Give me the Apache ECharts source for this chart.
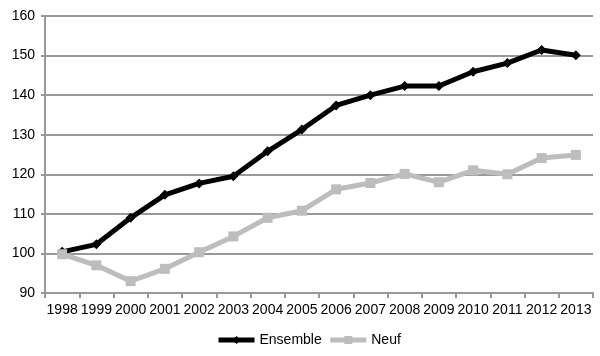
<!DOCTYPE html>
<html><head><meta charset="utf-8">
<script src="https://cdn.jsdelivr.net/npm/echarts@6/dist/echarts.min.js"></script>
<style>html,body{margin:0;padding:0;background:#fff}#c{width:600px;height:356px}</style>
</head><body><div id="c"></div>
<script>
const years = ['1998','1999','2000','2001','2002','2003','2004','2005','2006','2007','2008','2009','2010','2011','2012','2013'];
const ensemble = [100.4,102.3,109.0,114.8,117.7,119.5,125.8,131.3,137.4,140.0,142.3,142.3,145.9,148.1,151.4,150.1];
const neuf = [99.8,97.0,93.0,96.1,100.3,104.3,109.0,110.8,116.2,117.8,120.1,118.0,121.0,120.0,124.1,124.9];
const yTicks = {min:90, max:160, interval:10};

const chart = echarts.init(document.getElementById('c'));
const font = 'Liberation Sans, Arial, sans-serif';
chart.setOption({
  animation:false,
  grid:{left:45, right:7, top:16, bottom:63},
  xAxis:{type:'category', data:years, boundaryGap:true,
    axisLine:{lineStyle:{color:'#999', width:2}},
    axisTick:{show:true, length:5, lineStyle:{color:'#999', width:2}},
    axisLabel:{color:'#000', fontSize:14, fontFamily:font, margin:10, interval:0}},
  yAxis:{type:'value', min:yTicks.min, max:yTicks.max, interval:yTicks.interval,
    axisLine:{show:true, lineStyle:{color:'#999', width:2}},
    axisTick:{show:true, length:4, lineStyle:{color:'#999', width:2}},
    splitLine:{lineStyle:{color:'#999', width:2}},
    axisLabel:{color:'#000', fontSize:14, fontFamily:font, margin:10}},
  legend:{bottom:4, left:211, itemWidth:36, itemHeight:10, itemGap:6,
    textStyle:{color:'#000', fontSize:14, fontFamily:font},
    data:[{name:'Ensemble', lineStyle:{width:5, color:'#000'}},{name:'Neuf', lineStyle:{width:5, color:'#bdbdbd'}}]},
  series:[
    {name:'Ensemble', type:'line', data:ensemble, symbol:'diamond', symbolSize:10,
      lineStyle:{color:'#000', width:5}, itemStyle:{color:'#000'}},
    {name:'Neuf', type:'line', data:neuf, symbol:'rect', symbolSize:10,
      lineStyle:{color:'#bdbdbd', width:5}, itemStyle:{color:'#bdbdbd'}}
  ]
});
</script></body></html>
